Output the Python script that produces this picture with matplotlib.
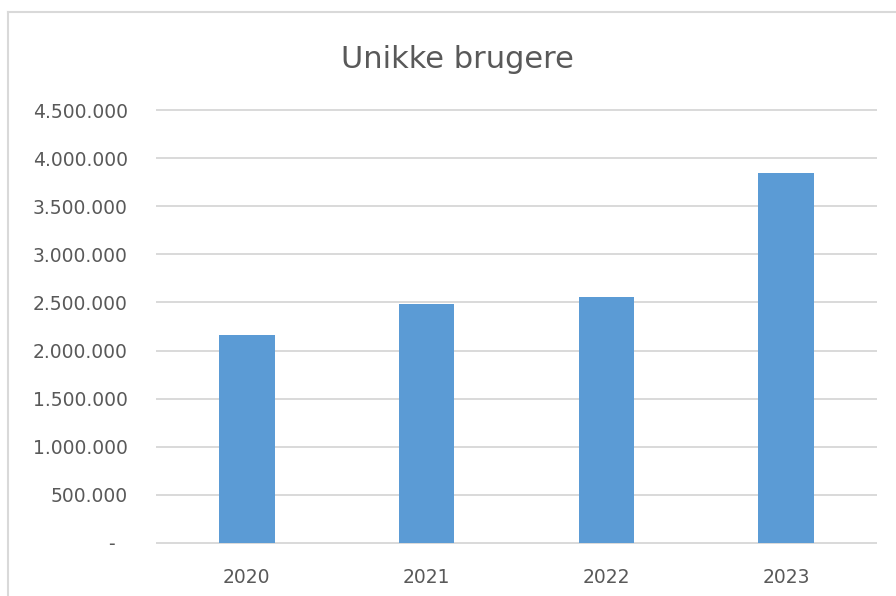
import matplotlib.pyplot as plt
from matplotlib.lines import Line2D

# data
years = ['2020', '2021', '2022', '2023']
users = [2160000, 2486000, 2559000, 3845000]
yticks = [0, 500000, 1000000, 1500000, 2000000, 2500000, 3000000, 3500000, 4000000, 4500000]
ytick_labels = ['-  ', '500.000', '1.000.000', '1.500.000', '2.000.000', '2.500.000',
                '3.000.000', '3.500.000', '4.000.000', '4.500.000']

grey = '#595959'
line_col = '#D9D9D9'

fig = plt.figure(figsize=(8.96, 5.96), dpi=100)
ax = fig.add_axes([157 / 896, 1 - 543 / 596, (876 - 157) / 896, (543 - 110) / 596])

x = range(len(years))
ax.bar(x, users, width=0.31, color='#5B9BD5', zorder=3)

ax.set_xlim(-0.5, len(years) - 0.5)
ax.set_ylim(0, 4500000)
ax.set_yticks(yticks)
ax.set_yticklabels(ytick_labels)
ax.set_xticks(list(x))
ax.set_xticklabels(years)

ax.grid(axis='y', color=line_col, linewidth=1.4, zorder=0)
for gl in ax.get_ygridlines():
    gl.set_clip_on(False)
for s in ax.spines.values():
    s.set_visible(False)
ax.tick_params(axis='both', length=0, colors=grey, labelsize=13.5)
ax.tick_params(axis='y', pad=21)
ax.tick_params(axis='x', pad=18)

# title
fig.text(457 / 896, 1 - 68 / 596, 'Unikke brugere', ha='center', va='baseline',
         fontsize=22, color=grey)

# outer chart border (left and top visible)
fig.add_artist(Line2D([8 / 896, 8 / 896], [0, 1 - 12 / 596], color=line_col, linewidth=1.5))
fig.add_artist(Line2D([8 / 896, 1], [1 - 12 / 596, 1 - 12 / 596], color=line_col, linewidth=1.5))

fig.savefig('out.png', dpi=100, facecolor='white')
